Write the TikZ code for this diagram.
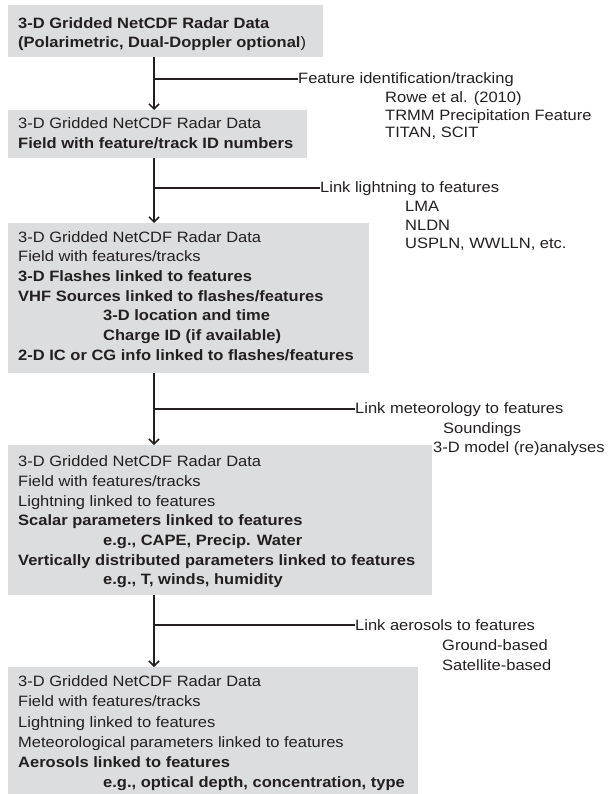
\documentclass[tikz,border=0pt]{standalone}
\usepackage{fontspec}
\setmainfont[FakeStretch=1.1]{Liberation Sans}
\usetikzlibrary{arrows.meta}
\definecolor{boxgray}{RGB}{220,221,222}
\definecolor{ink}{RGB}{35,31,32}
\begin{document}
\begin{tikzpicture}[x=1pt,y=-1pt,
  box/.style={fill=boxgray, draw=none, anchor=north west, inner sep=0pt},
  txt/.style={anchor=base west, inner sep=0pt, text=ink, font=\fontsize{15}{19.7}\selectfont},
  flow/.style={draw=ink, line width=1.5pt, -{Straight Barb[length=5pt,width=10pt,line width=1.5pt]}},
  branch/.style={draw=ink, line width=2.8pt}]
\useasboundingbox (0,0) rectangle (615,794);
\coordinate (ax) at (154,0);
% boxes
\node[box, minimum width=315pt, minimum height=52pt] (b1) at (8,5) {};
\node[box, minimum width=299pt, minimum height=48pt] (b2) at (8,110) {};
\node[box, minimum width=361pt, minimum height=150pt] (b3) at (8,223) {};
\node[box, minimum width=424pt, minimum height=150pt] (b4) at (8,445) {};
\node[box, minimum width=410pt, minimum height=127pt] (b5) at (8,667) {};
% box 1 text
\node[txt] (t11) at (18,29) {\textbf{3-D Gridded NetCDF Radar Data}};
\node[txt] (t12) at (18,48) {\textbf{(Polarimetric, Dual-Doppler optional})};
% box 2 text
\node[txt] (t21) at (18,129) {3-D Gridded NetCDF Radar Data};
\node[txt] (t22) at (18,149) {\textbf{Field with feature/track ID numbers}};
% box 3 text
\node[txt] (t31) at (18,242) {3-D Gridded NetCDF Radar Data};
\node[txt] (t32) at (18,261.7) {Field with features/tracks};
\node[txt] (t33) at (18,281.4) {\textbf{3-D Flashes linked to features}};
\node[txt] (t34) at (18,301.1) {\textbf{VHF Sources linked to flashes/features}};
\node[txt] (t35) at (103,320.8) {\textbf{3-D location and time}};
\node[txt] (t36) at (103,340.5) {\textbf{Charge ID (if available)}};
\node[txt] (t37) at (18,360.2) {\textbf{2-D IC or CG info linked to flashes/features}};
% box 4 text
\node[txt] (t41) at (18,466.7) {3-D Gridded NetCDF Radar Data};
\node[txt] (t42) at (18,486.4) {Field with features/tracks};
\node[txt] (t43) at (18,506.1) {Lightning linked to features};
\node[txt] (t44) at (18,525.8) {\textbf{Scalar parameters linked to features}};
\node[txt] (t45) at (103,545.5) {\textbf{e.g., CAPE, Precip. Water}};
\node[txt] (t46) at (18,565.2) {\textbf{Vertically distributed parameters linked to features}};
\node[txt] (t47) at (103,584.9) {\textbf{e.g., T, winds, humidity}};
% box 5 text
\node[txt] (t51) at (18,686.7) {3-D Gridded NetCDF Radar Data};
\node[txt] (t52) at (18,706.9) {Field with features/tracks};
\node[txt] (t53) at (18,727.1) {Lightning linked to features};
\node[txt] (t54) at (18,747.3) {Meteorological parameters linked to features};
\node[txt] (t55) at (18,767.5) {\textbf{Aerosols linked to features}};
\node[txt] (t56) at (103,787.7) {\textbf{e.g., optical depth, concentration, type}};
% side labels
\node[txt] (l1) at (298,84) {Feature identification/tracking};
\node[txt] (l1a) at (385,103) {Rowe et al. (2010)};
\node[txt] (l1b) at (385,120.5) {TRMM Precipitation Feature};
\node[txt] (l1c) at (385,138) {TITAN, SCIT};
\node[txt] (l2) at (320,193) {Link lightning to features};
\node[txt] (l2a) at (405,212) {LMA};
\node[txt] (l2b) at (405,230) {NLDN};
\node[txt] (l2c) at (405,248) {USPLN, WWLLN, etc.};
\node[txt] (l3) at (355,413) {Link meteorology to features};
\node[txt] (l3a) at (443,433) {Soundings};
\node[txt] (l3b) at (433,452) {3-D model (re)analyses};
\node[txt] (l4) at (355,630) {Link aerosols to features};
\node[txt] (l4a) at (442,650) {Ground-based};
\node[txt] (l4b) at (442,670) {Satellite-based};
% junction points
\coordinate (j1) at (154,79);
\coordinate (j2) at (154,188);
\coordinate (j3) at (154,409);
\coordinate (j4) at (154,625);
% flow arrows
\draw[flow] (b1.south -| ax) -- (b2.north -| ax);
\draw[flow] (b2.south -| ax) -- (b3.north -| ax);
\draw[flow] (b3.south -| ax) -- (b4.north -| ax);
\draw[flow] (b4.south -| ax) -- (b5.north -| ax);
% branches
\draw[branch] (j1) -- (j1 -| l1.west);
\draw[branch] (j2) -- (j2 -| l2.west);
\draw[branch] (j3) -- (j3 -| l3.west);
\draw[branch] (j4) -- (j4 -| l4.west);
\end{tikzpicture}
\end{document}
